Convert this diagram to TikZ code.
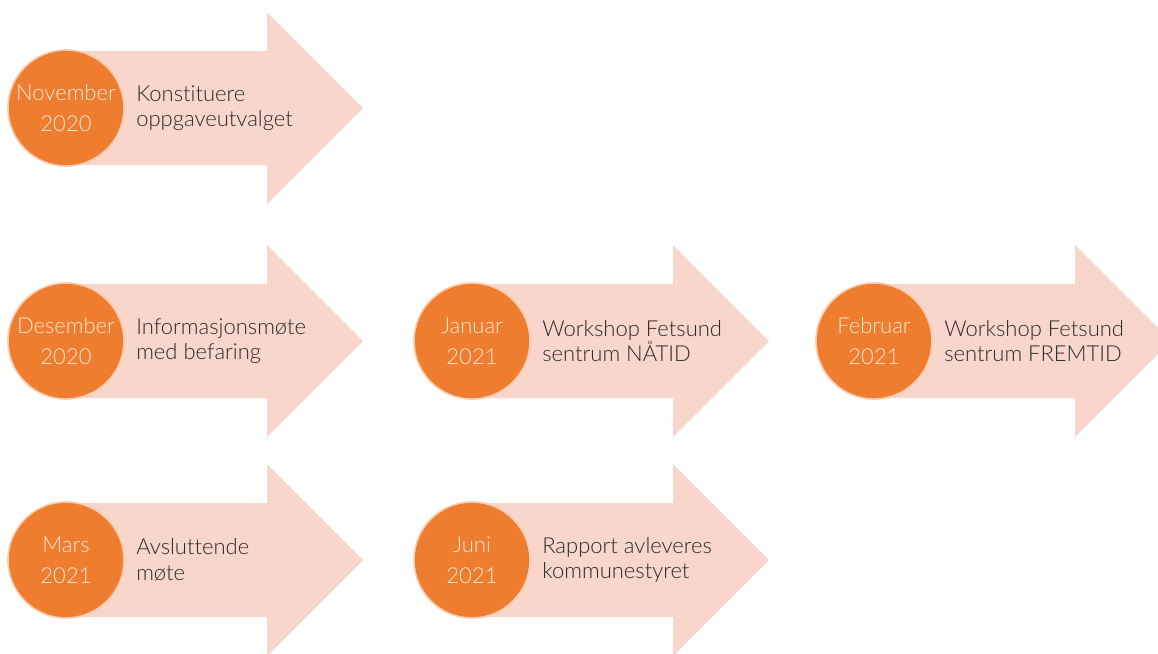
\documentclass[tikz,border=0pt]{standalone}
\usepackage{fontspec}
\setmainfont{Lato Light}[Ligatures=NoCommon]
\definecolor{arrowpink}{HTML}{F8D6CB}
\definecolor{circorange}{HTML}{EE7D30}
\definecolor{monthtext}{HTML}{FDE8D2}
\definecolor{desctext}{HTML}{2A2A2A}
\tikzset{
  arrowbody/.style={fill=arrowpink, draw=none},
  monthcirc/.style={circle, fill=circorange, draw=white!60!circorange, line width=1.2pt,
    minimum size=87pt, inner sep=0pt, text=monthtext, align=center,
    font=\fontsize{16.5}{23}\selectfont},
  desc/.style={anchor=west, text=desctext, align=left, inner sep=0pt,
    font=\fontsize{16.5}{19}\selectfont}
}
\newcommand{\milestone}[5]{%
  % #1 cx, #2 cy, #3 name, #4 month text, #5 description
  \fill[arrowbody] (#1,#2-57) -- (#1+201,#2-57) -- (#1+201,#2-96) -- (#1+297,#2)
    -- (#1+201,#2+96) -- (#1+201,#2+57) -- (#1,#2+57) -- cycle;
  \node[monthcirc] (#3c) at (#1,#2) {#4};
  \node[desc] (#3d) at (#1+70,#2) {#5};
}
\begin{document}
\begin{tikzpicture}[x=0.75pt,y=-0.75pt]
\useasboundingbox (0,0) rectangle (1158,654);
\fill[white] (0,0) rectangle (1158,654);
\milestone{66}{108}{nov}{November\\2020}{Konstituere\\oppgaveutvalget}
\milestone{66}{341}{des}{Desember\\2020}{Informasjonsmøte\\med befaring}
\milestone{472}{341}{jan}{Januar\\2021}{Workshop Fetsund\\sentrum NÅTID}
\milestone{874}{341}{feb}{Februar\\2021}{Workshop Fetsund\\sentrum FREMTID}
\milestone{66}{560}{mar}{Mars\\2021}{Avsluttende\\møte}
\milestone{472}{560}{jun}{Juni\\2021}{Rapport avleveres\\kommunestyret}
\end{tikzpicture}
\end{document}
